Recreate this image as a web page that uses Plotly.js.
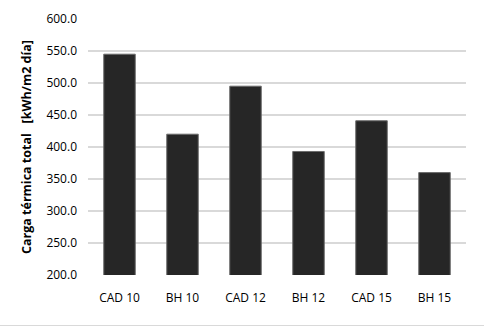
<!DOCTYPE html>
<html>
<head>
<meta charset="utf-8">
<script src="https://cdn.plot.ly/plotly-3.0.1.min.js"></script>
<style>
html,body{margin:0;padding:0;background:#fff;}
#wrap{width:484px;height:325px;border-bottom:1px solid #d9d9d9;}
#chart{width:484px;height:325px;}
</style>
</head>
<body>
<div id="wrap"><div id="chart"></div></div>
<script>
const categories = ["CAD 10", "BH 10", "CAD 12", "BH 12", "CAD 15", "BH 15"];
const values = [545, 420, 495, 393, 441, 360];
const yTitle = "Carga térmica total   [kWh/m2 día]";

const trace = {
  type: "bar",
  x: categories,
  y: values,
  base: 0,
  marker: {color: "#262626", line: {color: "#6b6b6b", width: 1}},
  hoverinfo: "skip"
};

const layout = {
  width: 484, height: 325,
  margin: {l: 88, r: 18, t: 19, b: 50},
  paper_bgcolor: "#ffffff",
  plot_bgcolor: "#ffffff",
  bargap: 0.5,
  showlegend: false,
  font: {family: "Open Sans, sans-serif", size: 12, color: "#404040"},
  xaxis: {
    type: "category",
    showgrid: false, zeroline: false, showline: false,
    ticks: "", ticklen: 0,
    ticklabelstandoff: 14,
    tickfont: {size: 12, color: "#000000"}
  },
  yaxis: {
    range: [200, 600], dtick: 50, tick0: 200,
    tickformat: ".1f",
    showgrid: true, gridcolor: "#d9d9d9", gridwidth: 1.5,
    zeroline: false, showline: false, ticks: "",
    ticklabelstandoff: 10,
    tickfont: {size: 12, color: "#000000"},
    title: {text: yTitle, font: {size: 12.5, color: "#000000", family: "Open Sans, sans-serif", weight: "bold"}, standoff: 12}
  }
};

Plotly.newPlot("chart", [trace], layout, {staticPlot: true, displayModeBar: false});
</script>
</body>
</html>
